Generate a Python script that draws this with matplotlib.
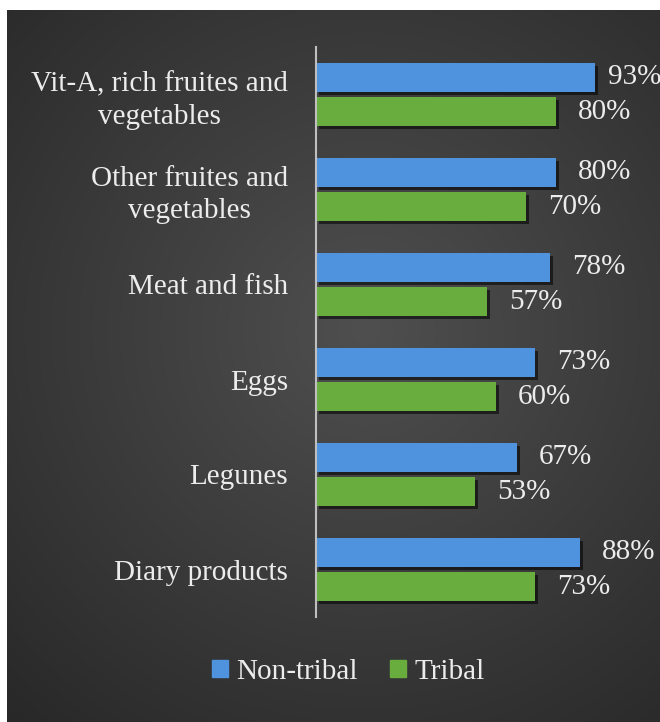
import numpy as np
import matplotlib.pyplot as plt
import matplotlib.patheffects as pe
from matplotlib.patches import Patch

categories = ['Vit-A, rich fruites and\nvegetables', 'Other fruites and\nvegetables',
              'Meat and fish', 'Eggs', 'Legunes', 'Diary products']
non_tribal = [93, 80, 78, 73, 67, 88]
tribal = [80, 70, 57, 60, 53, 73]
series_names = ['Non-tribal', 'Tribal']

blue = '#4f93df'
green = '#69ad3f'
txt = '#ececec'
fs = 21
plt.rcParams['font.family'] = ['Liberation Serif', 'DejaVu Serif']

fig = plt.figure(figsize=(6.6, 7.22), dpi=100, facecolor='white')

# dark panel with a soft radial gradient
bg = fig.add_axes([7 / 660, 0, 653 / 660, 712 / 722])
yy, xx = np.mgrid[0:1:300j, 0:1:300j]
r = np.sqrt((xx - 0.55) ** 2 + ((yy - 0.45) * 1.1) ** 2)
grad = 0.31 - 0.15 * np.clip(r / 0.8, 0, 1)
bg.imshow(np.dstack([grad] * 3), aspect='auto', extent=[0, 1, 0, 1])
bg.axis('off')

ax = fig.add_axes([316 / 660, 1 - 617 / 722, 300 / 660, 570 / 722])
ax.patch.set_alpha(0)
y = np.arange(len(categories))
h = 0.305
off = 0.179
shadow = [pe.withSimplePatchShadow(offset=(2, -2), shadow_rgbFace='black', alpha=0.55)]
b1 = ax.barh(y - off, non_tribal, height=h, color=blue, path_effects=shadow)
b2 = ax.barh(y + off, tribal, height=h, color=green, path_effects=shadow)
for bars, vals in ((b1, non_tribal), (b2, tribal)):
    for b, v in zip(bars, vals):
        # label sits right of the bar, but is kept inside the picture
        ax.text(min(v + 7.3, 97.3), b.get_y() + b.get_height() / 2, f'{v}%', va='center',
                ha='left', color=txt, fontsize=fs, clip_on=False)

ax.set_xlim(0, 100)
ax.set_ylim(len(categories) - 0.5, -0.5)
ax.set_xticks([])
ax.set_yticks(y)
ax.set_yticklabels(categories, fontsize=fs, color=txt, ha='right', multialignment='center',
                   linespacing=1.3)
ax.tick_params(axis='y', length=0, pad=20)
for s in ['top', 'right', 'bottom']:
    ax.spines[s].set_visible(False)
ax.spines['left'].set_color('#bfbfbf')
ax.spines['left'].set_linewidth(1.5)

handles = [Patch(color=blue), Patch(color=green)]
fig.legend(handles, series_names, loc='center', bbox_to_anchor=(0.528, 1 - 672 / 722), ncol=2,
           frameon=False, fontsize=fs, labelcolor=txt, handlelength=0.55, handleheight=0.55,
           handletextpad=0.3, columnspacing=1.1)

fig.savefig('out.png', dpi=100, facecolor='white')
